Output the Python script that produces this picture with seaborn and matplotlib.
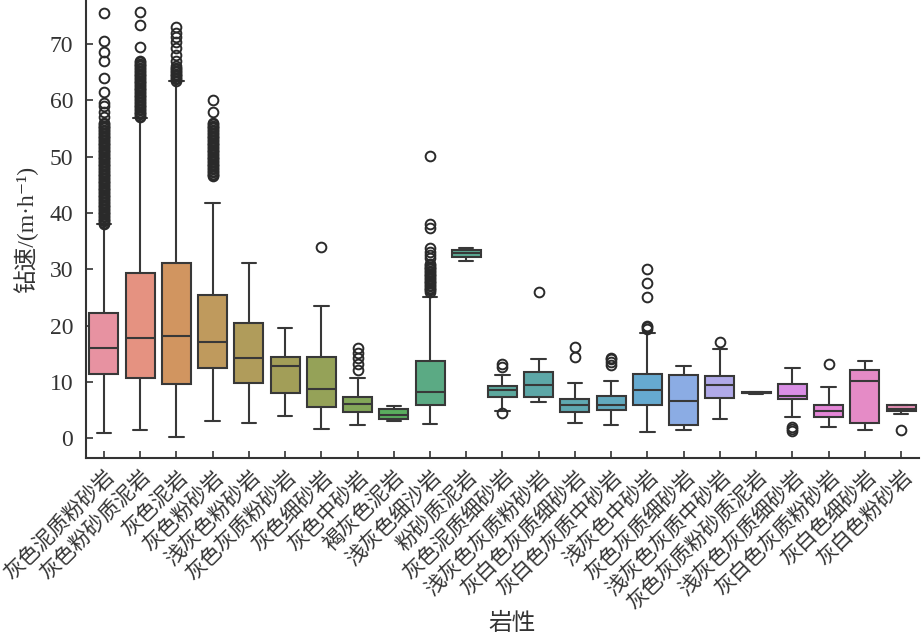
import numpy as np
import seaborn as sns
import matplotlib.pyplot as plt

# lithology categories (x axis)
rocks = ['灰色泥质粉砂岩', '灰色粉砂质泥岩', '灰色泥岩', '灰色粉砂岩', '浅灰色粉砂岩',
         '灰色灰质粉砂岩', '灰色细砂岩', '灰色中砂岩', '褐灰色泥岩', '浅灰色细沙岩',
         '粉砂质泥岩', '灰色泥质细砂岩', '浅灰色灰质粉砂岩', '灰白色灰质细砂岩',
         '灰白色灰质中砂岩', '浅灰色中砂岩', '灰色灰质细砂岩', '浅灰色灰质中砂岩',
         '灰色灰质粉砂质泥岩', '浅灰色灰质细砂岩', '灰白色灰质粉砂岩', '灰白色细砂岩',
         '灰白色粉砂岩']

# box statistics (m/h)
q1 = [11.5, 10.8, 9.7, 12.5, 9.9, 8.0, 5.5, 4.7, 3.5, 5.9, 32.1, 7.4, 7.4, 4.6,
      5.0, 6.0, 2.3, 7.2, 8.0, 7.0, 3.8, 2.7, 4.8]
med = [16.0, 17.8, 18.2, 17.1, 14.2, 12.9, 8.8, 6.1, 4.2, 8.2, 32.9, 8.6, 9.4, 5.9,
       6.0, 8.5, 6.7, 9.4, 8.1, 7.5, 4.8, 10.2, 5.3]
q3 = [22.2, 29.3, 31.2, 25.5, 20.5, 14.4, 14.4, 7.3, 5.2, 13.8, 33.5, 9.3, 11.8, 6.9,
      7.6, 11.4, 11.3, 11.1, 8.2, 9.6, 5.9, 12.1, 5.9]
whislo = [1.0, 1.5, 0.2, 3.1, 2.7, 4.0, 1.7, 2.4, 3.0, 2.6, 31.4, 4.8, 6.5, 2.8,
          2.3, 1.1, 1.5, 3.4, 7.9, 3.8, 2.0, 1.4, 4.4]
whishi = [38.1, 56.9, 63.5, 41.8, 31.2, 19.5, 23.5, 10.7, 5.7, 25.1, 33.8, 11.2, 14.1, 9.9,
          10.1, 18.7, 12.8, 15.9, 8.3, 12.5, 9.1, 13.7, 5.9]
outliers = [
    [38.0, 38.25, 38.5, 38.75, 39.0, 39.25, 39.5, 39.75, 40.0, 40.25, 40.5, 40.75,
     41.0, 41.25, 41.5, 41.75, 42.0, 42.25, 42.5, 42.75, 43.0, 43.25, 43.5, 43.75,
     44.0, 44.25, 44.5, 44.75, 45.0, 45.25, 45.5, 45.75, 46.0, 46.25, 46.5, 46.75,
     47.0, 47.25, 47.5, 47.75, 48.0, 48.25, 48.5, 48.75, 49.0, 49.25, 49.5, 49.75,
     50.0, 50.25, 50.5, 50.75, 51.0, 51.25, 51.5, 51.75, 52.0, 52.25, 52.5, 52.75,
     53.0, 53.25, 53.5, 53.75, 54.0, 54.25, 54.5, 54.75, 55.0, 55.25, 55.5, 55.75,
     56.0, 57.0, 58.0, 59.0, 59.5, 61.5, 64.0, 67.0, 68.5, 70.5, 75.5],
    [57.0, 57.25, 57.5, 57.75, 58.0, 58.25, 58.5, 58.75, 59.0, 59.25, 59.5, 59.75,
     60.0, 60.25, 60.5, 60.75, 61.0, 61.25, 61.5, 61.75, 62.0, 62.25, 62.5, 62.75,
     63.0, 63.25, 63.5, 63.75, 64.0, 64.25, 64.5, 64.75, 65.0, 65.25, 65.5, 65.75,
     66.0, 66.25, 66.5, 66.75, 67.0, 69.5, 73.3, 75.7],
    [63.5, 63.75, 64.0, 64.25, 64.5, 64.75, 65.0, 65.25, 65.5, 65.75, 66.0,
     67.0, 68.0, 69.3, 70.3, 71.2, 72.0, 73.0],
    [46.5, 46.75, 47.0, 47.25, 47.5, 47.75, 48.0, 48.25, 48.5, 48.75, 49.0, 49.25,
     49.5, 49.75, 50.0, 50.25, 50.5, 50.75, 51.0, 51.25, 51.5, 51.75, 52.0, 52.25,
     52.5, 52.75, 53.0, 53.25, 53.5, 53.75, 54.0, 54.25, 54.5, 54.75, 55.0, 55.25,
     55.5, 55.75, 56.0, 58.0, 60.0],
    [],
    [],
    [33.9],
    [12.2, 13.2, 14.3, 15.2, 16.0],
    [],
    [26.0, 26.25, 26.5, 26.75, 27.0, 27.25, 27.5, 27.75, 28.0, 28.25, 28.5, 28.75,
     29.0, 29.25, 29.5, 29.75, 30.0, 30.25, 30.5, 30.75, 31.0, 32.0, 32.5, 33.0,
     33.8, 37.4, 38.0, 50.2],
    [],
    [4.5, 12.6, 13.2],
    [25.9],
    [14.5, 16.2],
    [13.0, 13.5, 14.0, 14.3],
    [19.4, 19.7, 20.0, 25.1, 27.6, 30.0],
    [],
    [17.1],
    [],
    [1.3, 1.7, 2.1],
    [13.2],
    [],
    [1.4],
]

sns.set_style('ticks')
plt.rcParams['font.family'] = ['Liberation Serif', 'Noto Sans CJK SC', 'DejaVu Sans']

base = sns.color_palette('husl', len(rocks))
colors = [tuple(0.88 * np.array(sns.desaturate(c, 0.72)) + 0.12) for c in base]

stats = []
for i, name in enumerate(rocks):
    stats.append({'label': name, 'q1': q1[i], 'med': med[i], 'q3': q3[i],
                  'whislo': whislo[i], 'whishi': whishi[i], 'fliers': outliers[i]})

edge = '#383838'
fig, ax = plt.subplots(figsize=(9.22, 6.38), dpi=100)
fig.subplots_adjust(left=0.093, right=0.997, top=1.0, bottom=0.282)
bp = ax.bxp(stats, positions=np.arange(len(rocks)), widths=0.8, patch_artist=True,
            boxprops=dict(edgecolor=edge, linewidth=1.5),
            medianprops=dict(color=edge, linewidth=1.5),
            whiskerprops=dict(color=edge, linewidth=1.5),
            capprops=dict(color=edge, linewidth=1.5),
            flierprops=dict(marker='o', markersize=7, markerfacecolor='none',
                            markeredgecolor='#2a2a2a', markeredgewidth=1.4))
for patch, c in zip(bp['boxes'], colors):
    patch.set_facecolor(c)

ax.set_xlim(-0.5, len(rocks) - 0.5)
ax.set_ylim(-3.5, 77.8)
ax.set_yticks(range(0, 80, 10))
ax.set_xticks(np.arange(len(rocks)))
ax.set_xticklabels(rocks, rotation=45, ha='right', rotation_mode='anchor',
                   family='Noto Sans CJK SC', fontsize=15, color='#333333')
ax.tick_params(axis='y', direction='in', labelsize=17, labelcolor='#333333',
               length=5, width=1.2, color='#333333', pad=9)
ax.tick_params(axis='x', direction='in', length=5, width=1.2, color='#333333', pad=6)
ax.set_ylabel('钻速/(m·h⁻¹)', fontsize=17, color='#333333', labelpad=8)
ax.set_xlabel('岩性', family='Noto Sans CJK SC', fontsize=17, color='#333333', va='center')
ax.xaxis.set_label_coords(0.511, -0.362)
sns.despine(ax=ax)
for s in ['left', 'bottom']:
    ax.spines[s].set_color('#333333')
    ax.spines[s].set_linewidth(1.5)

plt.savefig('out.png', dpi=100)
plt.close()
